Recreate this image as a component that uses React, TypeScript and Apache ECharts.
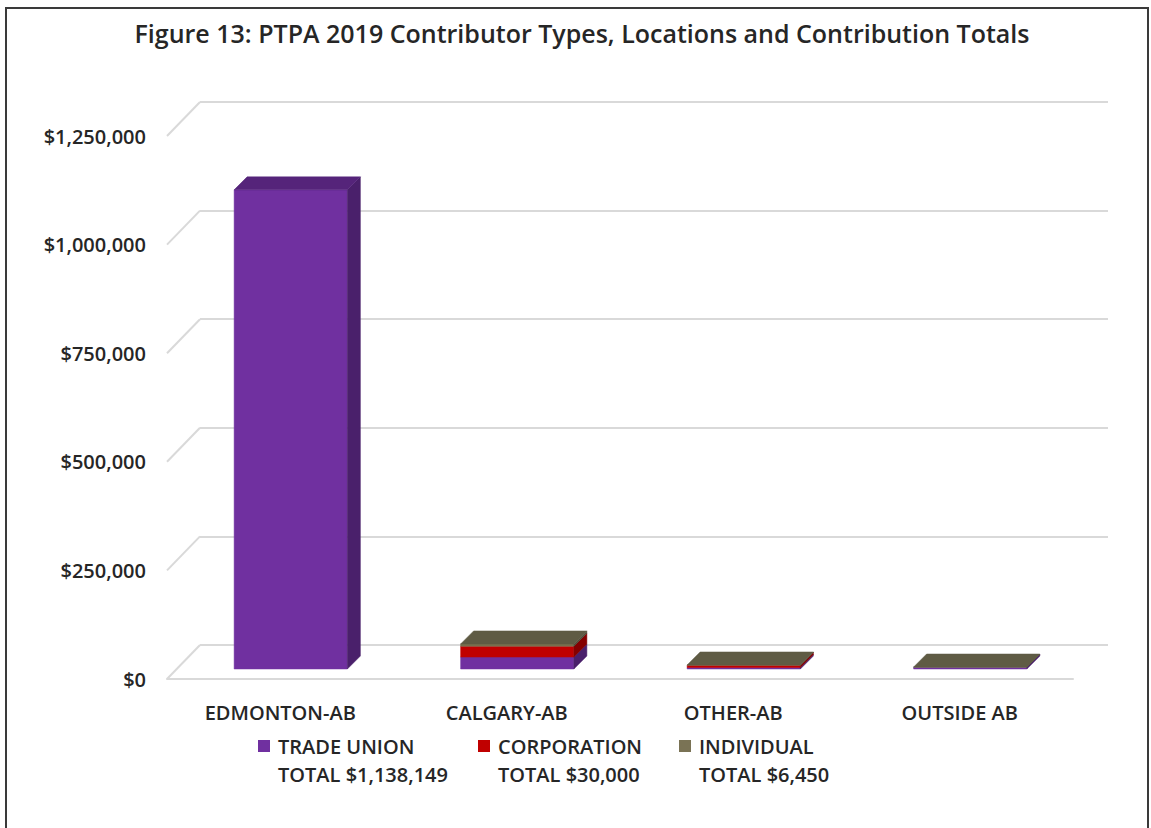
import React, { useEffect, useRef } from "react";
import * as echarts from "echarts";

const categories = ["EDMONTON-AB", "CALGARY-AB", "OTHER-AB", "OUTSIDE AB"];
const tradeUnion = [1103000, 27500, 3500, 4149];
const corporation = [0, 25000, 5000, 0];
const individual = [0, 5200, 800, 450];
const seriesNames = ["TRADE UNION", "CORPORATION", "INDIVIDUAL"];
const yTicks = [0, 250000, 500000, 750000, 1000000, 1250000];
const titleText = "Figure 13: PTPA 2019 Contributor Types, Locations and Contribution Totals";

const FONT = "'Open Sans', 'Noto Sans', sans-serif";
const TEXT = "#262626";
const GRID = "#d9d9d9";

// face colours: front, top, side
const faceColors = [
  ["#7030A0", "#55247A", "#4A206B"],
  ["#C00000", "#980000", "#840000"],
  ["#77704F", "#5F5B44", "#524E3A"],
];
const legendColors = ["#7030A0", "#C00000", "#7A7355"];

const WALL_DX = 33;
const WALL_DY = -34;
const BAR_DX = 10.5;
const BAR_DY = -10;
const DEPTH = 13;

const fmt = (v: number) => "$" + v.toLocaleString("en-US");

export default function App() {
  const ref = useRef<HTMLDivElement>(null);
  useEffect(() => {
    if (!ref.current) return;
    const chart = echarts.init(ref.current, undefined, { renderer: "svg" });
    const stacks = [tradeUnion, corporation, individual];
    const topIndex = categories.map((_, i) => {
      let t = -1;
      stacks.forEach((s, k) => {
        if (s[i] > 0) t = k;
      });
      return t;
    });

    const barSeries = stacks.map((arr, k) => ({
      type: "custom",
      name: seriesNames[k],
      xAxisIndex: 0,
      yAxisIndex: 0,
      z: 5,
      encode: { x: 0, y: 1 },
      data: arr.map((v, i) => {
        let base = 0;
        for (let j = 0; j < k; j++) base += stacks[j][i];
        return [i, v, base];
      }),
      renderItem: (params: any, api: any) => {
        const idx = api.value(0);
        const val = api.value(1);
        const base = api.value(2);
        if (!val) return null;
        const cx = api.coord([idx, 0])[0];
        const bandW = api.size([1, 0])[0];
        const w = bandW * 0.5;
        const y0 = api.coord([idx, base])[1] + BAR_DY;
        const y1 = api.coord([idx, base + val])[1] + BAR_DY;
        const L = cx - w / 2 + BAR_DX;
        const R = L + w;
        const c = faceColors[k];
        const children: any[] = [
          {
            type: "rect",
            shape: { x: L, y: y1, width: w, height: y0 - y1 },
            style: { fill: c[0], stroke: c[0], lineWidth: 0.5 },
          },
          {
            type: "polygon",
            shape: { points: [[R, y0], [R + DEPTH, y0 - DEPTH], [R + DEPTH, y1 - DEPTH], [R, y1]] },
            style: { fill: c[2], stroke: c[2], lineWidth: 0.5 },
          },
        ];
        if (topIndex[idx] === k) {
          children.push({
            type: "polygon",
            shape: { points: [[L, y1], [R, y1], [R + DEPTH, y1 - DEPTH], [L + DEPTH, y1 - DEPTH]] },
            style: { fill: c[1], stroke: c[1], lineWidth: 0.5 },
          });
        }
        return { type: "group", children };
      },
    }));

    const legendGraphics: any[] = [];
    const legendX = [258, 478, 679];
    stacks.forEach((arr, k) => {
      const total = arr.reduce((a, b) => a + b, 0);
      legendGraphics.push({
        type: "rect",
        shape: { x: legendX[k], y: 740, width: 12, height: 12 },
        style: { fill: legendColors[k] },
      });
      legendGraphics.push({
        type: "text",
        x: legendX[k] + 20,
        y: 746,
        style: {
          text: seriesNames[k],
          font: `600 20px ${FONT}`,
          fill: TEXT,
          verticalAlign: "middle",
        },
      });
      legendGraphics.push({
        type: "text",
        x: legendX[k] + 20,
        y: 774,
        style: {
          text: "TOTAL " + fmt(total),
          font: `600 20px ${FONT}`,
          fill: TEXT,
          verticalAlign: "middle",
        },
      });
    });

    chart.setOption({
      animation: false,
      backgroundColor: "#ffffff",
      title: {
        text: titleText,
        left: 577,
        textAlign: "center",
        top: 15,
        textStyle: { fontFamily: FONT, fontWeight: 600, fontSize: 25, color: TEXT },
      },
      grid: [
        { left: 167, right: 78, top: 136, bottom: 149 },
        { left: 167 + WALL_DX, right: 78 - WALL_DX - 2, top: 136 + WALL_DY, bottom: 149 - WALL_DY },
      ],
      xAxis: [
        {
          type: "category",
          gridIndex: 0,
          data: categories,
          axisLine: { show: true, lineStyle: { color: GRID, width: 2 } },
          axisTick: { show: false },
          axisLabel: {
            margin: 23,
            fontFamily: FONT,
            fontWeight: 600,
            fontSize: 20,
            color: TEXT,
          },
        },
        {
          type: "category",
          gridIndex: 1,
          data: categories,
          show: false,
        },
      ],
      yAxis: [
        {
          type: "value",
          gridIndex: 0,
          min: 0,
          max: 1250000,
          interval: 250000,
          axisLine: { show: false },
          axisTick: { show: false },
          splitLine: { show: false },
          axisLabel: {
            margin: 21,
            fontFamily: FONT,
            fontWeight: 600,
            fontSize: 20,
            color: TEXT,
            formatter: (v: number) => fmt(v),
          },
        },
        {
          type: "value",
          gridIndex: 1,
          min: 0,
          max: 1250000,
          interval: 250000,
          axisLine: { show: false },
          axisTick: { show: false },
          axisLabel: { show: false },
          splitLine: { show: true, lineStyle: { color: GRID, width: 2 } },
        },
      ],
      graphic: [
        {
          type: "rect",
          shape: { x: 6, y: 8, width: 1142, height: 900 },
          style: { fill: "none", stroke: "#3a3a3a", lineWidth: 2 },
          z: 100,
        },
        ...legendGraphics,
      ],
      series: [
        {
          type: "custom",
          name: "walls",
          xAxisIndex: 0,
          yAxisIndex: 0,
          z: 1,
          silent: true,
          encode: { x: 0, y: 1 },
          data: yTicks.map((v) => [0, v]),
          renderItem: (params: any, api: any) => {
            const x = params.coordSys.x;
            const y = api.coord([0, api.value(1)])[1];
            return {
              type: "line",
              shape: { x1: x, y1: y, x2: x + WALL_DX, y2: y + WALL_DY },
              style: { stroke: GRID, lineWidth: 2 },
            };
          },
        },
        ...barSeries,
      ],
    });
    return () => chart.dispose();
  }, []);
  return (
    <div
      ref={ref}
      style={{ position: "absolute", left: 0, top: 0, width: 1151, height: 828 }}
    />
  );
}
